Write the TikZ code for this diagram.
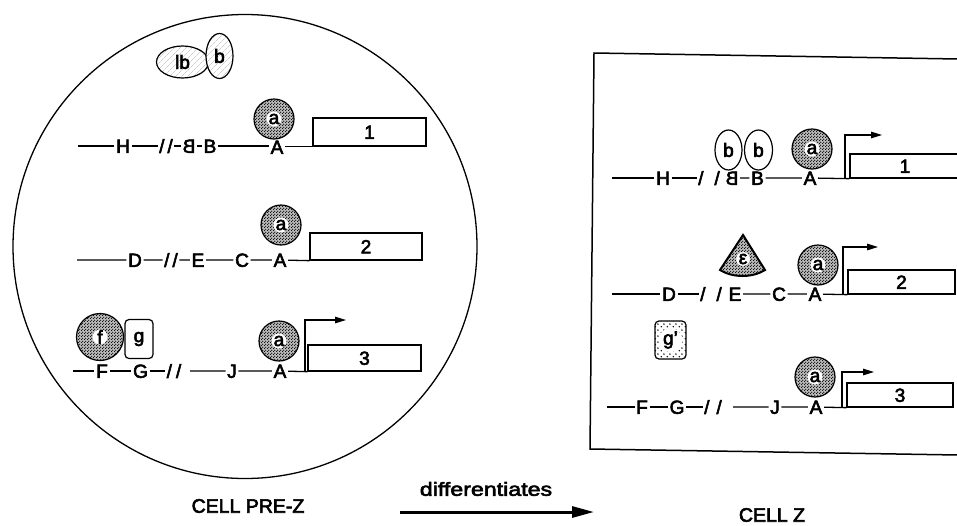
\documentclass[tikz,border=0pt]{standalone}
\usepackage{fontspec}
\setmainfont[FakeBold=3]{Liberation Sans}
\newfontfamily\difffont[FakeStretch=1.22,FakeBold=3]{Liberation Sans}
\usepackage{graphicx}
\usetikzlibrary{arrows.meta,patterns,patterns.meta,shapes.geometric}

\pgfdeclarepattern{
  name=stip,
  type=uncolored,
  bottom left={\pgfpoint{0pt}{0pt}},
  top right={\pgfpoint{3pt}{3pt}},
  tile size={\pgfpoint{3pt}{3pt}},
  code={
    \pgfpathcircle{\pgfpoint{0.75pt}{0.75pt}}{0.72pt}
    \pgfpathcircle{\pgfpoint{2.25pt}{2.25pt}}{0.72pt}
    \pgfusepath{fill}
  }
}
\pgfdeclarepattern{
  name=spdots,
  type=uncolored,
  bottom left={\pgfpoint{0pt}{0pt}},
  top right={\pgfpoint{6pt}{6pt}},
  tile size={\pgfpoint{6pt}{6pt}},
  code={
    \pgfpathcircle{\pgfpoint{1.5pt}{1.5pt}}{0.9pt}
    \pgfpathcircle{\pgfpoint{4.5pt}{4.5pt}}{0.9pt}
    \pgfusepath{fill}
  }
}

\begin{document}
\begin{tikzpicture}[x=1pt,y=-1pt,
  lt/.style={font=\fontsize{19}{19}\selectfont, inner sep=1.5pt, text height=13.6pt, text depth=0pt},
  dna/.style={line width=1.3pt},
  gbox/.style={draw, line width=1.3pt, font=\fontsize{19}{19}\selectfont, inner sep=0pt, text height=13.6pt, text depth=0pt},
  stipc/.style={circle, draw, line width=1.2pt, preaction={fill=gray!55}, pattern=stip, pattern color=black, minimum size=40pt, inner sep=0pt},
  lab/.style={fill=white, circle, inner sep=0.1pt, font=\fontsize{19}{19}\selectfont},
  hatchell/.style={ellipse, draw, line width=1.2pt, preaction={fill=white}, pattern={Lines[angle=45,distance=4pt,line width=0.4pt]}, pattern color=gray!60, inner sep=0pt, font=\fontsize{19}{19}\selectfont},
  plainell/.style={ellipse, draw, line width=1.2pt, fill=white, inner sep=0pt, font=\fontsize{19}{19}\selectfont},
  rbox/.style={draw, line width=1.2pt, rounded corners=4pt, inner sep=0pt, font=\fontsize{19}{19}\selectfont},
  prom/.style={line width=1.3pt, -{Triangle[length=11pt,width=6.5pt]}},
  caption/.style={font=\fontsize{19.5}{20}\selectfont, inner sep=0pt}
]
\useasboundingbox[fill=white] (0,0) rectangle (957,525);

% ---------------- CELL PRE-Z ----------------
\node[circle, draw, line width=1.3pt, minimum size=464pt, inner sep=0pt] (cell) at (245,246.5) {};

\node[hatchell, minimum width=52pt, minimum height=32pt] (lb) at (182.5,62) {lb};
\node[hatchell, minimum width=27pt, minimum height=45pt] (b0) at (219.5,56) {b};

% row 1
\node[gbox, minimum width=113pt, minimum height=28pt] (L1box) at (369.5,132) {1};
\node[stipc, label={[lab]center:a}] (L1a) at (274,119) {};
\coordinate (L1s) at (78,146);
\node[lt] (L1H) at (123,146) {H};
\node[lt] (L1sl) at (166,146) {/\kern3pt/};
\node[lt] (L1rB) at (189,146) {\reflectbox{B}};
\node[lt] (L1B) at (210,146) {B};
\node[lt] (L1A) at (277,147) {A};
\draw[dna] (L1s) -- (L1H) -- (L1sl) -- (L1rB) -- (L1B) -- (L1B -| L1A.west);
\draw[dna] (L1A.east |- L1box.south west) -- (L1box.south west);

% row 2
\node[gbox, minimum width=112pt, minimum height=27pt] (L2box) at (366,246.5) {2};
\node[stipc, label={[lab]center:a}] (L2a) at (281,225) {};
\coordinate (L2s) at (77,260);
\node[lt] (L2D) at (135,260) {D};
\node[lt] (L2sl) at (171,260) {/\kern3pt/};
\node[lt] (L2E) at (198,260) {E};
\node[lt] (L2C) at (242,260) {C};
\node[lt] (L2A) at (280,260) {A};
\draw[dna] (L2s) -- (L2D) -- (L2sl) -- (L2E) -- (L2C) -- (L2A) -- (L2box.south west);

% row 3
\node[gbox, minimum width=113pt, minimum height=26pt] (L3box) at (364.5,358) {3};
\node[stipc, label={[lab]center:a}] (L3a) at (279,341) {};
\node[stipc, minimum size=47pt, label={[lab]center:f}] (L3f) at (100,337) {};
\node[rbox, minimum width=28pt, minimum height=39pt] (L3g) at (139,339) {g};
\coordinate (L3s) at (73,371);
\node[lt] (L3F) at (102,371) {F};
\node[lt] (L3G) at (140.5,371) {G};
\node[lt] (L3sl) at (174,371) {/\kern4pt/};
\coordinate (L3gap) at (190,371);
\node[lt] (L3J) at (232,371) {J};
\node[lt] (L3A) at (280,371) {A};
\draw[dna] (L3s) -- (L3F) -- (L3G) -- (L3sl);
\draw[dna] (L3gap) -- (L3J) -- (L3A) -- (L3box.south west);
\coordinate (L3p) at (305,371);
\coordinate (L3pt) at (305,320);
\coordinate (L3tip) at (346,320);
\draw[prom] (L3p) -- (L3pt) -- (L3tip);

% ---------------- CELL Z ----------------
\draw[line width=1.5pt] (958,59) -- (594,53) -- (590,449) -- (958,455);

% row 1
\node[gbox, minimum width=110pt, minimum height=24pt] (R1box) at (905,166) {1};
\node[plainell, minimum width=27pt, minimum height=40pt] (R1b1) at (728.5,150) {b};
\node[plainell, minimum width=28pt, minimum height=40pt] (R1b2) at (758.5,150) {b};
\node[stipc, label={[lab]center:a}] (R1a) at (812,149) {};
\coordinate (R1s) at (612,178);
\node[lt] (R1H) at (663,178) {H};
\node[lt] (R1sl) at (709,178) {/\kern11pt/};
\node[lt] (R1rB) at (732,178) {\reflectbox{B}};
\node[lt] (R1B) at (757.5,178) {B};
\node[lt] (R1A) at (810,178) {A};
\draw[dna] (R1s) -- (R1H) -- (R1sl);
\draw[dna] (R1rB) -- (R1B) -- (R1A) -- (R1box.south west);
\coordinate (R1p) at (845,178);
\coordinate (R1pt) at (845,135);
\coordinate (R1tip) at (882,135);
\draw[prom] (R1p) -- (R1pt) -- (R1tip);

% row 2
\node[gbox, minimum width=107pt, minimum height=24pt] (R2box) at (901.5,282) {2};
\draw[line width=2pt, preaction={fill=gray!55}, pattern=stip, pattern color=black] (743,235) -- (720,270) .. controls (733,278) and (752,278) .. (765,270) -- cycle;
\node[lab] (eps) at (743,259) {ε};
\node[stipc, label={[lab]center:a}] (R2a) at (818,265) {};
\coordinate (R2s) at (612,294);
\node[lt] (R2D) at (669,294) {D};
\node[lt] (R2sl) at (711,294) {/\kern11pt/};
\node[lt] (R2E) at (735,294) {E};
\node[lt] (R2C) at (779,294) {C};
\node[lt] (R2A) at (815,294) {A};
\draw[dna] (R2s) -- (R2D) -- (R2sl);
\draw[dna] (R2E) -- (R2C) -- (R2A) -- (R2box.south west);
\coordinate (R2p) at (843,294);
\coordinate (R2pt) at (843,247);
\coordinate (R2tip) at (878,247);
\draw[prom] (R2p) -- (R2pt) -- (R2tip);

% g'
\node[rbox, minimum width=31pt, minimum height=38pt, pattern=spdots, pattern color=black, label={[lab, inner sep=0.5pt]center:g'}] (Rg) at (670.5,340) {};

% row 3
\node[gbox, minimum width=106pt, minimum height=24pt] (R3box) at (900,395) {3};
\node[stipc, label={[lab]center:a}] (R3a) at (815,377) {};
\coordinate (R3s) at (607,407);
\node[lt] (R3F) at (642,407) {F};
\node[lt] (R3G) at (677,407) {G};
\node[lt] (R3sl) at (713,407) {/\kern7pt/};
\coordinate (R3gap) at (733,407);
\node[lt] (R3J) at (775,407) {J};
\node[lt] (R3A) at (816,407) {A};
\draw[dna] (R3s) -- (R3F) -- (R3G) -- (R3sl);
\draw[dna] (R3gap) -- (R3J) -- (R3A) -- (R3box.south west);
\coordinate (R3p) at (842,407);
\coordinate (R3pt) at (842,372);
\coordinate (R3tip) at (874,372);
\draw[prom] (R3p) -- (R3pt) -- (R3tip);

% ---------------- captions ----------------
\node[caption] (cpz) at (248,506) {CELL PRE-Z};
\node[font=\difffont\fontsize{19}{20}\selectfont, inner sep=0pt] (diff) at (486,489) {differentiates};
\node[caption] (cz) at (772,515) {CELL Z};
\coordinate (ds) at (400,512);
\coordinate (de) at (594,512);
\draw[line width=3pt, -{Triangle[length=22pt,width=11pt]}] (ds) -- (de);
\end{tikzpicture}
\end{document}
